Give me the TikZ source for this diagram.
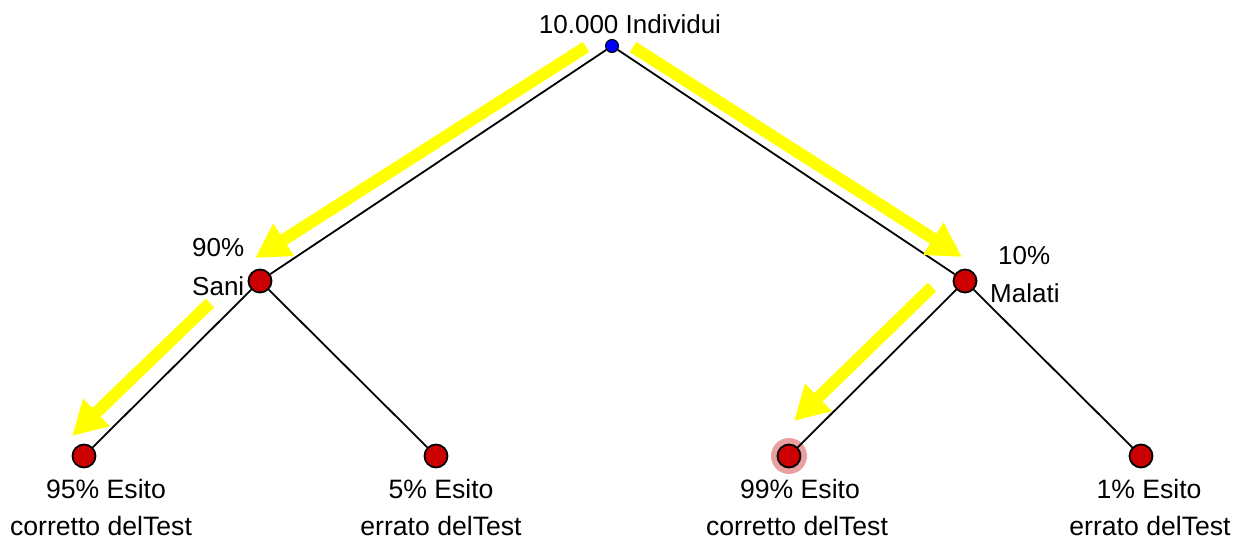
\documentclass[tikz,border=0pt]{standalone}
\usepackage{fontspec}
\setmainfont{Liberation Sans}
\usetikzlibrary{arrows.meta}
\definecolor{nodered}{RGB}{204,0,0}
\definecolor{hl}{RGB}{234,160,160}
\definecolor{yl}{RGB}{255,255,0}
\begin{document}
\begin{tikzpicture}[x=1pt,y=-1pt,
  dot/.style={circle,draw=black,line width=1.8pt,fill=nodered,minimum size=23pt,inner sep=0pt},
  rootdot/.style={circle,draw=black,line width=1pt,fill=blue,minimum size=13pt,inner sep=0pt},
  edge/.style={draw=black,line width=1.8pt},
  bigarrow/.style={draw=yl,line width=12pt,-{Triangle[width=36pt,length=34pt]},fill=yl},
  lbl/.style={font=\fontsize{26}{30}\selectfont,inner sep=0pt},
  lblb/.style={font=\fontsize{26.6}{30}\selectfont,inner sep=0pt}]
\useasboundingbox (0,0) rectangle (1234,540);
\fill[white] (0,0) rectangle (1234,540);
% highlight
\fill[hl] (789,456) circle (18pt);
% nodes
\node[rootdot] (root) at (612,46) {};
\node[dot] (sani) at (260,281) {};
\node[dot] (malati) at (965,281) {};
\node[dot] (l1) at (84,456) {};
\node[dot] (l2) at (436,456) {};
\node[dot] (l3) at (789,456) {};
\node[dot] (l4) at (1141,456) {};
% edges
\draw[edge] (root) -- (sani);
\draw[edge] (root) -- (malati);
\draw[edge] (sani) -- (l1);
\draw[edge] (sani) -- (l2);
\draw[edge] (malati) -- (l3);
\draw[edge] (malati) -- (l4);
% arrow coordinates
\coordinate (a1s) at (586,47);
\coordinate (a1e) at (255,258);
\coordinate (a2s) at (633,47);
\coordinate (a2e) at (962,257);
\coordinate (a3s) at (210,303);
\coordinate (a3e) at (72,436);
\coordinate (a4s) at (932,287);
\coordinate (a4e) at (794,421);
\draw[bigarrow] (a1s) -- (a1e);
\draw[bigarrow] (a2s) -- (a2e);
\draw[bigarrow] (a3s) -- (a3e);
\draw[bigarrow] (a4s) -- (a4e);
% labels
\node[lbl,anchor=base] (troot) at (630,34) {10.000 Individui};
\node[lbl,anchor=base west] (t90) at (192,256) {90\%};
\node[lbl,anchor=base west] (tsani) at (192,295) {Sani};
\node[lbl,anchor=base west] (t10) at (998,264) {10\%};
\node[lbl,anchor=base west] (tmal) at (990,302) {Malati};
\node[lblb,anchor=base] (t1a) at (106,498) {95\% Esito};
\node[lblb,anchor=base] (t1b) at (101,535) {corretto delTest};
\node[lblb,anchor=base] (t2a) at (441,498) {5\% Esito};
\node[lblb,anchor=base] (t2b) at (441,535) {errato delTest};
\node[lblb,anchor=base] (t3a) at (800,498) {99\% Esito};
\node[lblb,anchor=base] (t3b) at (797,535) {corretto delTest};
\node[lblb,anchor=base] (t4a) at (1149,498) {1\% Esito};
\node[lblb,anchor=base] (t4b) at (1150,535) {errato delTest};
\end{tikzpicture}
\end{document}
